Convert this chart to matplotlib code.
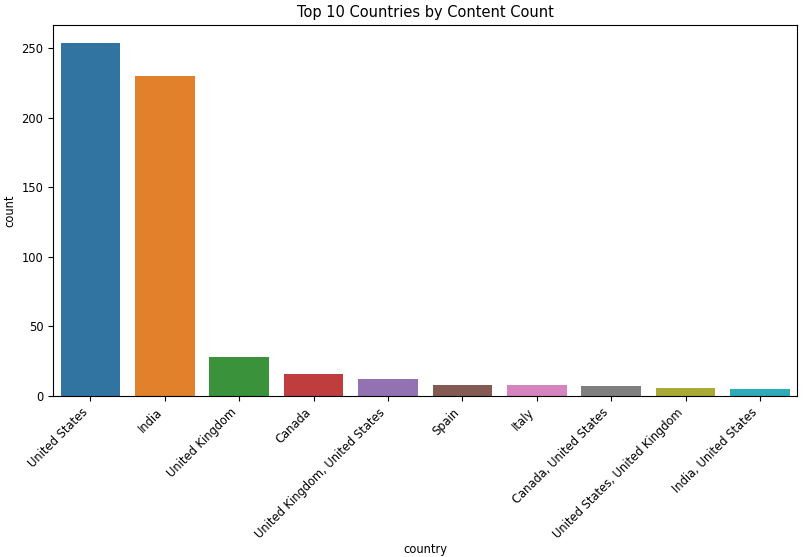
import matplotlib
matplotlib.use("Agg")
import matplotlib.pyplot as plt
import seaborn as sns
import pandas as pd

countries = ["United States", "India", "United Kingdom", "Canada",
             "United Kingdom, United States", "Spain", "Italy",
             "Canada, United States", "United States, United Kingdom",
             "India, United States"]
counts = [254, 230, 28, 16, 12, 8, 8, 7, 6, 5]

df = pd.DataFrame({"country": countries, "count": counts})

plt.rcParams["font.size"] = 8.3

fig, ax = plt.subplots(figsize=(8.06, 5.57), dpi=100)
sns.barplot(data=df, x="country", y="count", hue="country",
            palette="tab10", legend=False, ax=ax)
ax.set_title("Top 10 Countries by Content Count", fontsize=10.5)
plt.xticks(rotation=45, ha="right")
ax.xaxis.labelpad = 2
plt.subplots_adjust(left=0.066, right=0.989, top=0.955, bottom=0.289)
plt.savefig("out.png", dpi=100)
